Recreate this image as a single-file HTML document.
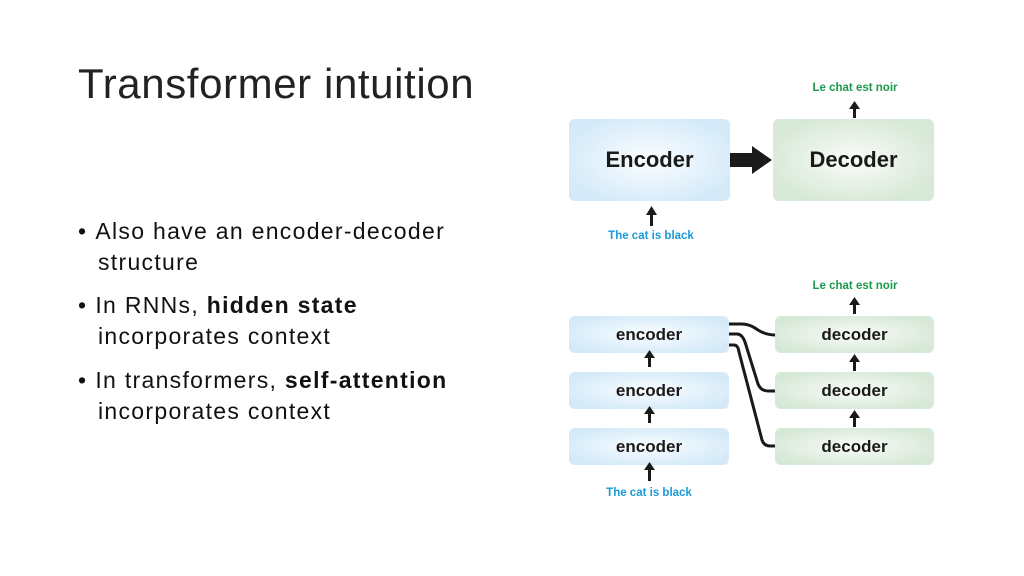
<!DOCTYPE html>
<html><head><style>
body{margin:0;width:1024px;height:576px;background:#fff;position:relative;overflow:hidden;font-family:"Liberation Sans",sans-serif}
.t{position:absolute;left:78px;top:60px;font-size:42px;letter-spacing:0.6px;color:#222;white-space:nowrap}
.b{position:absolute;left:78px;font-size:23px;letter-spacing:1.3px;color:#111;line-height:31px;white-space:nowrap}
.b span{display:inline-block;width:20px}
.box{position:absolute;border-radius:6px;display:flex;align-items:center;justify-content:center;color:#1a1a1a;font-weight:bold}
.enc{background:radial-gradient(ellipse at center,#fafdff 0%,#d4eaf9 80%)}
.dec{background:radial-gradient(ellipse at center,#fafcf8 0%,#d6e8d6 80%)}
.l{position:absolute;font-size:11.5px;font-weight:bold;white-space:nowrap;transform:translateX(-50%)}
</style></head><body>
<div class="t">Transformer intuition</div>
<div class="b" style="top:216px">•<span style="width:8px"></span>Also have an encoder-decoder<br><span></span>structure</div>
<div class="b" style="top:290px">•<span style="width:8px"></span>In RNNs, <b>hidden state</b><br><span></span>incorporates context</div>
<div class="b" style="top:365px">•<span style="width:8px"></span>In transformers, <b>self-attention</b><br><span></span>incorporates context</div>

<div class="box enc" style="left:569px;top:119px;width:161px;height:82px;font-size:22px">Encoder</div>
<div class="box dec" style="left:773px;top:119px;width:161px;height:82px;font-size:22px">Decoder</div>
<div class="l" style="left:855px;top:82px;color:#1a9a4a">Le chat est noir</div>
<div class="l" style="left:651px;top:230px;color:#1a9ad6">The cat is black</div>

<div class="box enc" style="left:569px;top:316px;width:160px;height:37px;font-size:17px">encoder</div>
<div class="box enc" style="left:569px;top:372px;width:160px;height:37px;font-size:17px">encoder</div>
<div class="box enc" style="left:569px;top:428px;width:160px;height:37px;font-size:17px">encoder</div>
<div class="box dec" style="left:775px;top:316px;width:159px;height:37px;font-size:17px">decoder</div>
<div class="box dec" style="left:775px;top:372px;width:159px;height:37px;font-size:17px">decoder</div>
<div class="box dec" style="left:775px;top:428px;width:159px;height:37px;font-size:17px">decoder</div>
<div class="l" style="left:855px;top:280px;color:#1a9a4a">Le chat est noir</div>
<div class="l" style="left:649px;top:487px;color:#1a9ad6">The cat is black</div>

<svg width="1024" height="576" style="position:absolute;left:0;top:0">
<g fill="#1a1a1a">
<polygon points="730,153 752,153 752,146 772,160 752,174 752,167 730,167"/>
<rect x="853" y="108" width="3" height="10"/><polygon points="849,109 854.5,101 860,109"/>
<rect x="650" y="214" width="3" height="12"/><polygon points="646,215 651.5,206 657,215"/>
<rect x="648" y="355" width="3" height="12"/><polygon points="644,358 649.5,350 655,358"/>
<rect x="648" y="411" width="3" height="12"/><polygon points="644,414 649.5,406 655,414"/>
<rect x="648" y="467" width="3" height="14"/><polygon points="644,470 649.5,462 655,470"/>
<rect x="853" y="303" width="3" height="11"/><polygon points="849,305 854.5,297 860,305"/>
<rect x="853" y="359" width="3" height="12"/><polygon points="849,362 854.5,354 860,362"/>
<rect x="853" y="415" width="3" height="12"/><polygon points="849,418 854.5,410 860,418"/>
</g>
<g fill="none" stroke="#1a1a1a" stroke-width="3">
<path d="M729,324 L742,324 Q750,324 758,330 Q766,335 775,335"/>
<path d="M729,334 L737,334 Q742,334 745,342 L758,384 Q761,391 768,391 L775,391"/>
<path d="M729,345 L734,345 Q738,345 739,352 L762,440 Q764,446 770,446 L775,446"/>
</g>
</svg>
</body></html>
